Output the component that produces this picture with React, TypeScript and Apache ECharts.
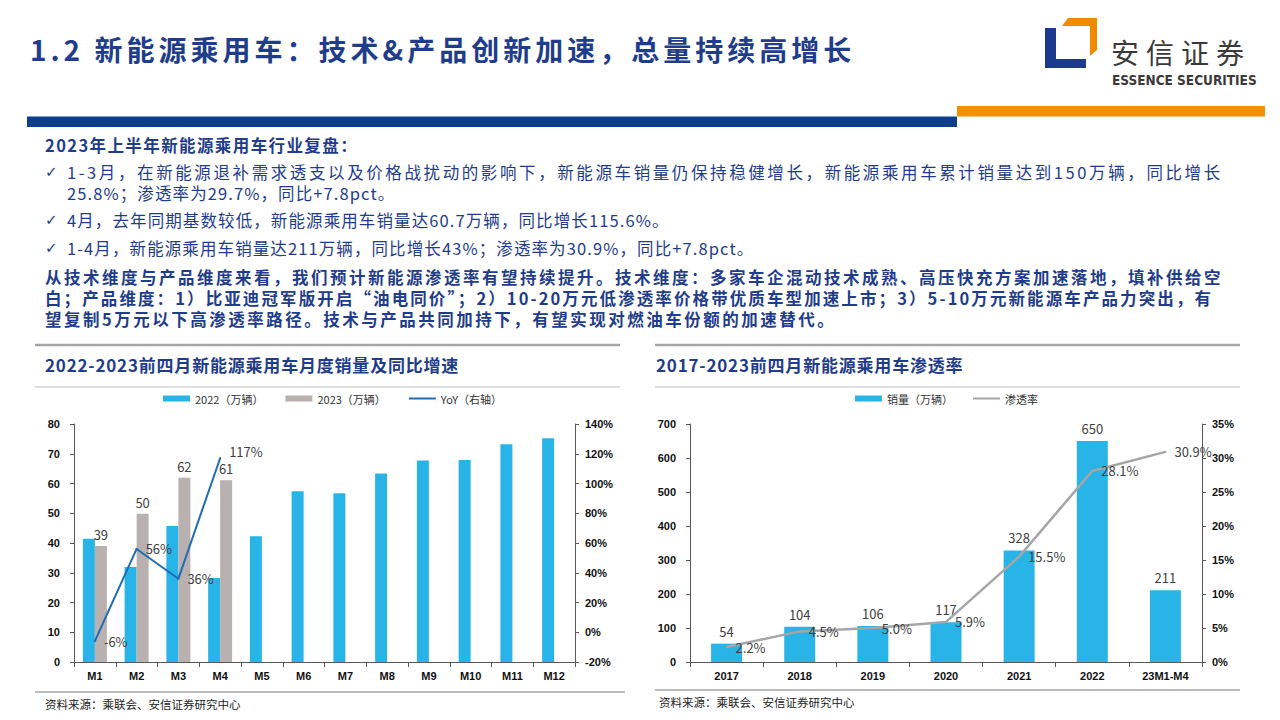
import React, { useEffect, useRef } from 'react';
import * as echarts from 'echarts';

// ---------- data ----------
const months = ['M1', 'M2', 'M3', 'M4', 'M5', 'M6', 'M7', 'M8', 'M9', 'M10', 'M11', 'M12'];
const sales2022 = [41.4, 31.9, 45.7, 28.2, 42.3, 57.4, 56.7, 63.4, 67.7, 67.9, 73.2, 75.2];
const sales2023 = [39.0, 49.8, 61.9, 61.1];
const yoy = [-6, 56, 36, 117];

const years = ['2017', '2018', '2019', '2020', '2021', '2022', '23M1-M4'];
const nevSales = [54, 104, 106, 117, 328, 650, 211];
const penetration = [2.2, 4.5, 5.0, 5.9, 15.5, 28.1, 30.9];

// ---------- texts ----------
const TITLE = '1.2 新能源乘用车：技术&产品创新加速，总量持续高增长';
const SUMMARY_HEAD = '2023年上半年新能源乘用车行业复盘：';
const LINE_1 = '1-3月，在新能源退补需求透支以及价格战扰动的影响下，新能源车销量仍保持稳健增长，新能源乘用车累计销量达到150万辆，同比增长';
const LINE_1B = '25.8%；渗透率为29.7%，同比+7.8pct。';
const LINE_2 = '4月，去年同期基数较低，新能源乘用车销量达60.7万辆，同比增长115.6%。';
const LINE_3 = '1-4月，新能源乘用车销量达211万辆，同比增长43%；渗透率为30.9%，同比+7.8pct。';
const PARA_1 = '从技术维度与产品维度来看，我们预计新能源渗透率有望持续提升。技术维度：多家车企混动技术成熟、高压快充方案加速落地，填补供给空';
const PARA_2 = '白；产品维度：1）比亚迪冠军版开启“油电同价”；2）10-20万元低渗透率价格带优质车型加速上市；3）5-10万元新能源车产品力突出，有';
const PARA_3 = '望复制5万元以下高渗透率路径。技术与产品共同加持下，有望实现对燃油车份额的加速替代。';
const CHART1_TITLE = '2022-2023前四月新能源乘用车月度销量及同比增速';
const CHART2_TITLE = '2017-2023前四月新能源乘用车渗透率';
const SOURCE = '资料来源：乘联会、安信证券研究中心';
const LOGO_CN = '安信证券';
const LOGO_EN = 'ESSENCE SECURITIES';

const S_2022 = '2022（万辆）';
const S_2023 = '2023（万辆）';
const S_YOY = 'YoY（右轴）';
const S_SALES = '销量（万辆）';
const S_PEN = '渗透率';

// ---------- styles ----------
const NAVY = '#1f3d8a';
const BAR_BLUE = '#28b4e6';
const BAR_GRAY = '#b9b1af';
const LINE_BLUE = '#1f6cb4';
const LINE_GRAY = '#a6a6a6';
const CJK = "'Noto Sans CJK SC', 'Noto Sans', sans-serif";
const AXIS_FONT = "'Liberation Sans', Arial, sans-serif";
const LABEL_FONT = "'Liberation Sans Narrow', 'Noto Sans CJK SC', sans-serif";

const spacing: Record<string, number> = {
  [TITLE]: 4,
  [SUMMARY_HEAD]: 1.4,
  [LINE_1]: 2.6,
  [LINE_1B]: 1.1,
  [LINE_2]: 1.1,
  [LINE_3]: 1.1,
  [PARA_1]: 2.5,
  [PARA_2]: 2.1,
  [PARA_3]: 2.5,
  [CHART1_TITLE]: 0.8,
  [CHART2_TITLE]: 0.8,
  [LOGO_CN]: 7,
};

function txt(text: string, x: number, y: number, size: number, weight: string, fill: string, family = CJK, lineHeight?: number) {
  const style: any = { text, fontSize: size, fontWeight: weight, fontFamily: family, fill, align: 'left', verticalAlign: 'middle' };
  if (lineHeight) style.lineHeight = lineHeight;
  return { type: 'text', x, y, silent: true, style };
}
function hline(x1: number, x2: number, y: number, color: string, w: number) {
  return { type: 'line', silent: true, shape: { x1, y1: y, x2, y2: y }, style: { stroke: color, lineWidth: w } };
}

export default function App() {
  const ref = useRef<HTMLDivElement>(null);

  useEffect(() => {
    document.body.style.margin = '0';
    if (!ref.current) return;
    const chart = echarts.init(ref.current, null, { renderer: 'svg', width: 1280, height: 720 });

    const axisLine = { show: true, lineStyle: { color: '#595959', width: 1 } };
    const axisTick = { show: true, length: 4, lineStyle: { color: '#595959' } };
    const axisLabel = { color: '#111', fontSize: 11, fontWeight: 'bold', fontFamily: AXIS_FONT };
    const dataLabel = { color: '#404040', fontSize: 13, fontFamily: LABEL_FONT };

    const graphic: any[] = [
      // header
      txt(TITLE, 30, 49, 28, 'bold', NAVY),
      { type: 'polygon', silent: true, shape: { points: [[1045, 28], [1056, 28], [1056, 59], [1086, 59], [1086, 68], [1045, 68]] }, style: { fill: '#1b3a8e' } },
      { type: 'polygon', silent: true, shape: { points: [[1068, 18], [1097, 18], [1097, 50], [1090, 56], [1090, 26], [1062, 26]] }, style: { fill: '#f08a00' } },
      txt(LOGO_CN, 1111, 52, 28, 'normal', '#3a3a3a'),
      txt(LOGO_EN, 1112, 80, 13.5, 'bold', '#3a3a3a', "'Liberation Sans Narrow', 'DejaVu Sans Condensed', sans-serif"),
      { type: 'rect', silent: true, shape: { x: 957, y: 106, width: 308, height: 10.5 }, style: { fill: '#f39200' } },
      { type: 'rect', silent: true, shape: { x: 27, y: 116.5, width: 930, height: 10.5 }, style: { fill: '#0d3e8c' } },
      // summary block
      txt(SUMMARY_HEAD, 45, 145, 16.5, 'bold', NAVY, CJK, 19),
      txt('✓', 45, 172, 15, 'normal', NAVY, "'DejaVu Sans', sans-serif", 18),
      txt(LINE_1, 67, 172, 16.5, 'normal', NAVY, CJK, 19),
      txt(LINE_1B, 67, 193, 16.5, 'normal', NAVY, CJK, 19),
      txt('✓', 45, 220, 15, 'normal', NAVY, "'DejaVu Sans', sans-serif", 18),
      txt(LINE_2, 67, 220, 16.5, 'normal', NAVY, CJK, 19),
      txt('✓', 45, 248, 15, 'normal', NAVY, "'DejaVu Sans', sans-serif", 18),
      txt(LINE_3, 67, 248, 16.5, 'normal', NAVY, CJK, 19),
      txt(PARA_1, 45, 277, 16.5, 'bold', NAVY, CJK, 19),
      txt(PARA_2, 45, 298, 16.5, 'bold', NAVY, CJK, 19),
      txt(PARA_3, 45, 319, 16.5, 'bold', NAVY, CJK, 19),
      // panel frames
      hline(35, 620, 345, '#a6a6a6', 2.5),
      hline(35, 620, 387, '#bfbfbf', 1.2),
      hline(655, 1240, 345, '#a6a6a6', 2.5),
      hline(655, 1240, 387, '#bfbfbf', 1.2),
      txt(CHART1_TITLE, 45, 364, 17, 'bold', NAVY),
      txt(CHART2_TITLE, 656, 364, 17, 'bold', NAVY),
      // footers
      hline(35, 625, 692, '#a6a6a6', 1.5),
      hline(655, 1240, 690, '#a6a6a6', 1.5),
      txt(SOURCE, 45, 704, 11.5, 'normal', '#222'),
      txt(SOURCE, 659, 702, 11.5, 'normal', '#222'),
    ];

    const yoyData = yoy.map((v, i) =>
      i === yoy.length - 1 ? { value: v, label: { offset: [0, -7] } } : v
    );

    const option: any = {
      animation: false,
      backgroundColor: '#ffffff',
      graphic,
      legend: [
        {
          data: [
            { name: S_2022, icon: 'rect' },
            { name: S_2023, icon: 'rect' },
            { name: S_YOY, itemStyle: { opacity: 0 } },
          ],
          left: 163,
          top: 393,
          padding: 0,
          itemWidth: 27,
          itemHeight: 6,
          itemGap: 22,
          selectedMode: false,
          textStyle: { fontSize: 11, color: '#333', fontFamily: CJK },
        },
        {
          data: [{ name: S_SALES, icon: 'rect' }, { name: S_PEN, itemStyle: { opacity: 0 } }],
          left: 855,
          top: 393,
          padding: 0,
          itemWidth: 27,
          itemHeight: 6,
          itemGap: 19,
          selectedMode: false,
          textStyle: { fontSize: 11, color: '#333', fontFamily: CJK },
        },
      ],
      grid: [
        { left: 74, top: 424, width: 501, height: 238, outerBoundsMode: 'none' },
        { left: 690, top: 424, width: 512, height: 238, outerBoundsMode: 'none' },
      ],
      xAxis: [
        {
          type: 'category', gridIndex: 0, data: months,
          axisLine, axisTick: { ...axisTick, length: 5 }, axisLabel: { ...axisLabel, margin: 8 },
        },
        {
          type: 'category', gridIndex: 1, data: years,
          axisLine, axisTick: { ...axisTick, length: 5 }, axisLabel: { ...axisLabel, margin: 8 },
        },
      ],
      yAxis: [
        {
          type: 'value', gridIndex: 0, position: 'left', min: 0, max: 80, interval: 10,
          axisLine, axisTick, axisLabel: { ...axisLabel, margin: 14 }, splitLine: { show: false },
        },
        {
          type: 'value', gridIndex: 0, position: 'right', min: -20, max: 140, interval: 20,
          axisLine, axisTick, axisLabel: { ...axisLabel, margin: 10, formatter: '{value}%' }, splitLine: { show: false },
        },
        {
          type: 'value', gridIndex: 1, position: 'left', min: 0, max: 700, interval: 100,
          axisLine, axisTick, axisLabel: { ...axisLabel, margin: 14 }, splitLine: { show: false },
        },
        {
          type: 'value', gridIndex: 1, position: 'right', min: 0, max: 35, interval: 5,
          axisLine, axisTick, axisLabel: { ...axisLabel, margin: 10, formatter: '{value}%' }, splitLine: { show: false },
        },
      ],
      series: [
        {
          name: S_2022, type: 'bar', xAxisIndex: 0, yAxisIndex: 0, data: sales2022,
          barWidth: 12, barGap: '0%', itemStyle: { color: BAR_BLUE },
        },
        {
          name: S_2023, type: 'bar', xAxisIndex: 0, yAxisIndex: 0, data: sales2023,
          barWidth: 12, barGap: '0%', itemStyle: { color: BAR_GRAY },
          label: { show: true, position: 'top', distance: 5, ...dataLabel, formatter: (p: any) => String(Math.round(p.value)) },
        },
        {
          name: S_YOY, type: 'line', xAxisIndex: 0, yAxisIndex: 1, data: yoyData,
          symbol: 'circle', symbolSize: 2, showSymbol: true,
          lineStyle: { color: LINE_BLUE, width: 2 }, itemStyle: { color: LINE_BLUE },
          label: { show: true, position: 'right', distance: 8, ...dataLabel, formatter: (p: any) => p.value + '%' },
        },
        {
          name: S_SALES, type: 'bar', xAxisIndex: 1, yAxisIndex: 2, data: nevSales,
          barWidth: 31, itemStyle: { color: BAR_BLUE },
          label: { show: true, position: 'top', distance: 6, ...dataLabel },
        },
        {
          name: S_PEN, type: 'line', xAxisIndex: 1, yAxisIndex: 3, data: penetration,
          symbol: 'circle', symbolSize: 2, showSymbol: true,
          lineStyle: { color: LINE_GRAY, width: 2.5 }, itemStyle: { color: LINE_GRAY },
          label: { show: true, position: 'right', distance: 8, ...dataLabel, formatter: (p: any) => Number(p.value).toFixed(1) + '%' },
        },
      ],
    };

    chart.setOption(option);

    const applySpacing = () => {
      if (!ref.current) return;
      ref.current.querySelectorAll('text').forEach((t) => {
        const s = spacing[t.textContent || ''];
        if (s != null) t.setAttribute('letter-spacing', String(s));
      });
    };
    applySpacing();
    chart.on('finished', applySpacing);
    const timer = window.setTimeout(applySpacing, 50);

    return () => {
      window.clearTimeout(timer);
      chart.dispose();
    };
  }, []);

  return <div ref={ref} style={{ position: 'absolute', left: 0, top: 0, width: 1280, height: 720, background: '#fff' }} />;
}
